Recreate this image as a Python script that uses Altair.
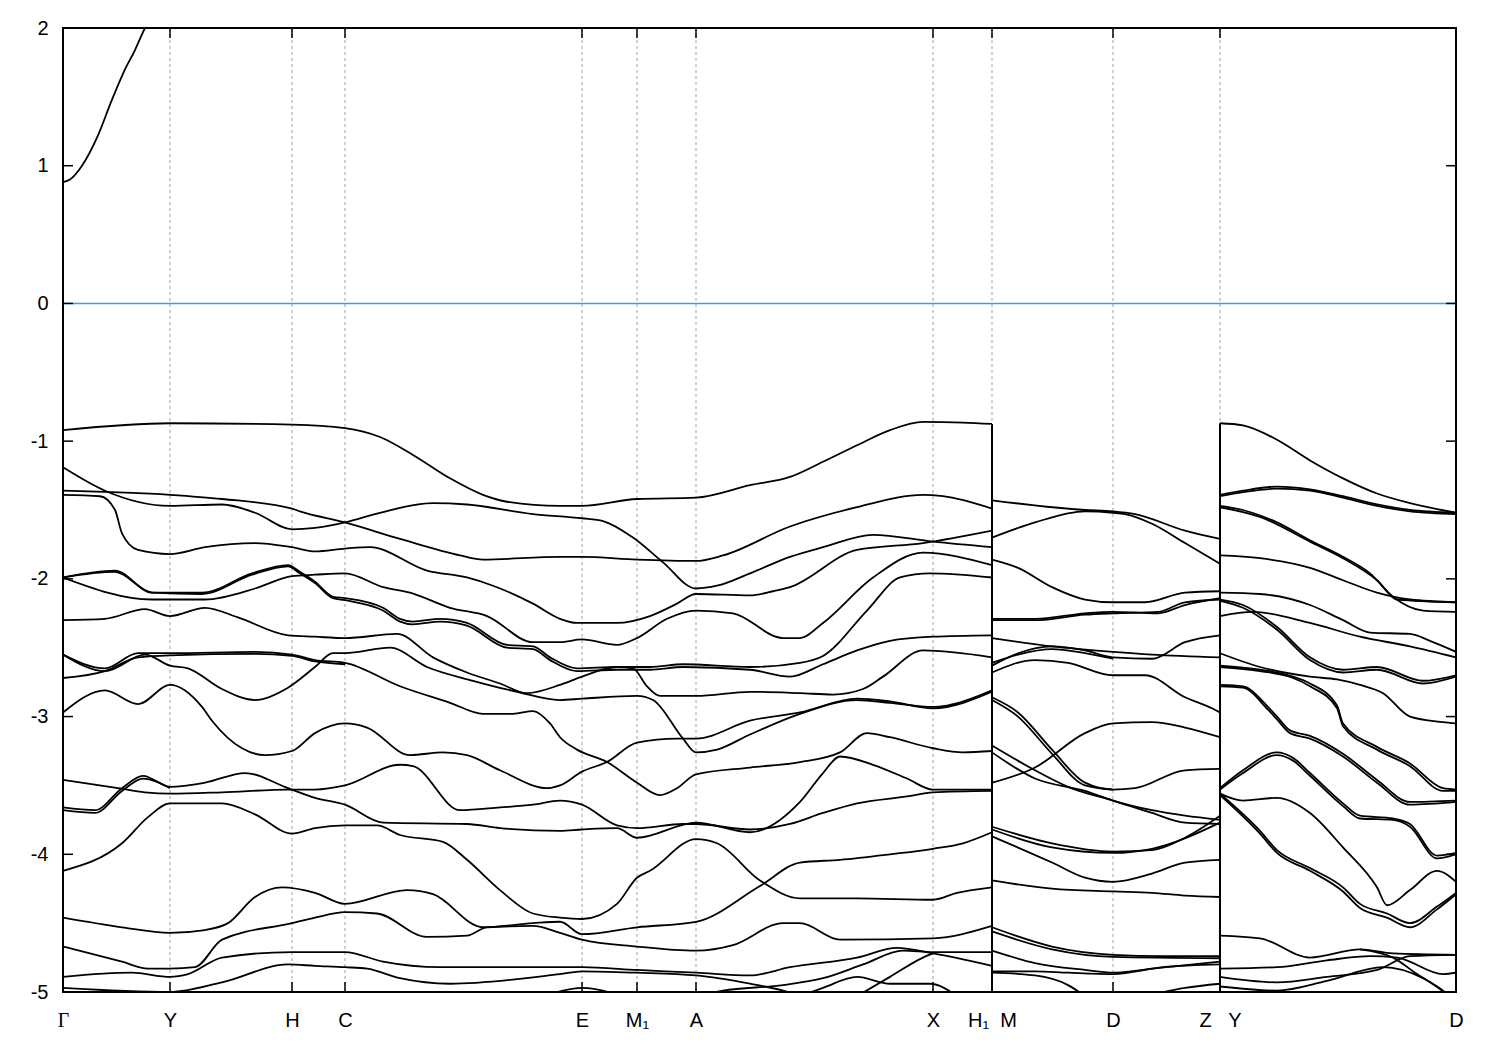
import altair as alt
import pandas as pd

# ---- axis data ----
tick_k = [0, 107, 229, 282, 519, 574, 633, 870, 929, 1050, 1157, 1393]
tick_names = ["Γ", "Y", "H", "C", "E", "M₁", "A", "X", "H₁\u00a0\u00a0M", "D", "Z\u00a0\u00a0\u00a0Y", "D"]
energy_ticks = [-5, -4, -3, -2, -1, 0, 1, 2]
fermi_level = [0.0]
jump_k = [929, 1157]
jump_top = [-0.875, -0.87]
jump_bottom = [-5.0, -5.0]

# ---- conduction band (Gamma) ----
cond_band = [(0, 0.88), (7, 0.90), (19, 1.00), (35, 1.22), (49, 1.48), (62, 1.70), (72, 1.84), (80, 1.97), (88, 2.08)]

# ---- segment 1: Gamma ... H1 ----
seg1 = [
    [(0,-0.92),(107,-0.87),(229,-0.88),(282,-0.905),(317,-0.97),(350,-1.10),(387,-1.27),(420,-1.39),(444,-1.44),(497,-1.47),(519,-1.47),(574,-1.42),(633,-1.41),(687,-1.32),(727,-1.26),(760,-1.15),(794,-1.03),(827,-0.92),(860,-0.86),(900,-0.865),(929,-0.875)],
    [(0,-1.19),(42,-1.36),(107,-1.47),(159,-1.46),(192,-1.52),(229,-1.64),(252,-1.63),(282,-1.59),(317,-1.52),(370,-1.45),(404,-1.46),(470,-1.53),(519,-1.56),(540,-1.58),(570,-1.70),(600,-1.88),(633,-2.07),(654,-2.05),(687,-1.96),(727,-1.84),(760,-1.77),(810,-1.68),(870,-1.73),(929,-1.77)],
    [(0,-1.36),(107,-1.39),(159,-1.42),(229,-1.49),(237,-1.51),(282,-1.59),(337,-1.71),(397,-1.83),(420,-1.86),(497,-1.84),(519,-1.84),(574,-1.86),(633,-1.87),(660,-1.83),(727,-1.62),(794,-1.48),(860,-1.39),(880,-1.40),(929,-1.49)],
    [(0,-1.39),(37,-1.40),(52,-1.50),(59,-1.67),(75,-1.79),(107,-1.82),(142,-1.77),(192,-1.74),(229,-1.77),(252,-1.80),(282,-1.78),(307,-1.77),(364,-1.94),(404,-1.99),(430,-2.05),(470,-2.18),(497,-2.29),(514,-2.32),(554,-2.32),(587,-2.27),(614,-2.18),(633,-2.11),(687,-2.12),(710,-2.09),(727,-2.06),(794,-1.79),(860,-1.74),(929,-1.65)],
    [(0,-1.99),(52,-1.94),(89,-2.10),(139,-2.10),(189,-1.96),(225,-1.90),(237,-1.95),(252,-2.02),(270,-2.13),(282,-2.14),(320,-2.21),(337,-2.29),(350,-2.31),(377,-2.29),(404,-2.32),(444,-2.48),(470,-2.49),(487,-2.57),(514,-2.65),(554,-2.64),(587,-2.64),(620,-2.62),(687,-2.64),(737,-2.61),(760,-2.56),(804,-2.23),(837,-1.99),(867,-1.96),(929,-1.99)],
    [(0,-1.99),(52,-1.95),(89,-2.10),(139,-2.11),(189,-1.97),(225,-1.91),(237,-1.96),(252,-2.03),(270,-2.14),(282,-2.155),(320,-2.23),(337,-2.31),(350,-2.33),(377,-2.31),(404,-2.34),(444,-2.50),(470,-2.51),(487,-2.59),(514,-2.67),(554,-2.66),(587,-2.66),(620,-2.64),(687,-2.66),(727,-2.71),(760,-2.62),(794,-2.52),(827,-2.45),(870,-2.42),(929,-2.41)],
    [(0,-1.99),(89,-2.15),(142,-2.15),(192,-2.07),(229,-1.98),(252,-1.97),(282,-1.96),(320,-2.06),(347,-2.10),(387,-2.21),(424,-2.27),(470,-2.46),(497,-2.46),(519,-2.44),(554,-2.48),(574,-2.43),(604,-2.29),(633,-2.23),(670,-2.25),(720,-2.43),(737,-2.43),(760,-2.32),(810,-1.99),(860,-1.81),(929,-1.90)],
    [(0,-2.30),(42,-2.29),(82,-2.22),(107,-2.27),(142,-2.21),(175,-2.28),(225,-2.41),(252,-2.42),(282,-2.43),(334,-2.40),(370,-2.57),(404,-2.68),(437,-2.76),(464,-2.83),(497,-2.77),(519,-2.71),(554,-2.64),(570,-2.65),(584,-2.78),(597,-2.85),(633,-2.85),(687,-2.82),(737,-2.83),(770,-2.84),(800,-2.80),(820,-2.71),(860,-2.52),(929,-2.57)],
    [(0,-2.55),(42,-2.65),(75,-2.54),(107,-2.54),(192,-2.53),(229,-2.55),(252,-2.59),(282,-2.61),(337,-2.78),(387,-2.90),(420,-2.98),(450,-2.98),(470,-2.96),(487,-3.05),(497,-3.15),(514,-3.24),(544,-3.33),(574,-3.48),(597,-3.57),(614,-3.52),(633,-3.42),(687,-3.37),(737,-3.33),(777,-3.26),(804,-3.12),(827,-3.15),(870,-3.23),(900,-3.26),(929,-3.25)],
    [(0,-2.55),(42,-2.67),(82,-2.55),(107,-2.63),(125,-2.65),(159,-2.80),(192,-2.88),(225,-2.79),(252,-2.64),(270,-2.54),(282,-2.54),(327,-2.50),(364,-2.64),(410,-2.74),(454,-2.82),(497,-2.88),(519,-2.87),(574,-2.85),(590,-2.88),(620,-3.16),(633,-3.26),(654,-3.24),(687,-3.13),(737,-2.98),(794,-2.88),(827,-2.90),(870,-2.93),(884,-2.92),(929,-2.81)],
    [(0,-2.72),(42,-2.67),(75,-2.57),(107,-2.555),(192,-2.545),(229,-2.56),(252,-2.60),(282,-2.62)],
    [(0,-2.97),(42,-2.81),(75,-2.91),(107,-2.77),(139,-2.93),(149,-3.03),(179,-3.23),(202,-3.28),(229,-3.25),(252,-3.12),(282,-3.05),(304,-3.08),(347,-3.28),(380,-3.26),(404,-3.28),(437,-3.39),(484,-3.52),(497,-3.50),(519,-3.40),(544,-3.33),(574,-3.19),(614,-3.16),(633,-3.16),(687,-3.03),(737,-2.97),(794,-2.87),(827,-2.89),(870,-2.94),(929,-2.82)],
    [(0,-3.46),(55,-3.52),(82,-3.55),(107,-3.56),(159,-3.55),(225,-3.53),(252,-3.53),(282,-3.50),(337,-3.35),(350,-3.36),(397,-3.68),(437,-3.66),(470,-3.64),(497,-3.61),(519,-3.64),(554,-3.79),(574,-3.81),(620,-3.78),(633,-3.78),(687,-3.82),(727,-3.78),(760,-3.70),(794,-3.63),(844,-3.58),(870,-3.55),(929,-3.54)],
    [(0,-3.66),(32,-3.68),(59,-3.52),(80,-3.43),(107,-3.51),(142,-3.48),(182,-3.41),(225,-3.52),(252,-3.59),(282,-3.64),(320,-3.77),(404,-3.78),(437,-3.81),(497,-3.83),(519,-3.82),(554,-3.81),(574,-3.88),(633,-3.77),(687,-3.84),(737,-3.62),(760,-3.41),(777,-3.29),(810,-3.35),(844,-3.45),(870,-3.53),(929,-3.53)],
    [(0,-3.68),(32,-3.70),(59,-3.54),(80,-3.45),(107,-3.52)],
    [(0,-4.12),(59,-3.92),(85,-3.73),(107,-3.63),(159,-3.63),(192,-3.71),(229,-3.85),(252,-3.81),(282,-3.79),(314,-3.79),(337,-3.86),(380,-3.91),(404,-4.04),(437,-4.26),(470,-4.43),(497,-4.46),(519,-4.47),(554,-4.36),(574,-4.17),(587,-4.12),(633,-3.89),(654,-3.92),(697,-4.19),(737,-4.32),(794,-4.32),(870,-4.33),(894,-4.28),(929,-4.24)],
    [(0,-4.46),(59,-4.53),(107,-4.57),(142,-4.55),(165,-4.50),(192,-4.31),(219,-4.24),(252,-4.28),(282,-4.36),(344,-4.26),(370,-4.29),(420,-4.53),(470,-4.50),(497,-4.49),(519,-4.58),(574,-4.53),(633,-4.49),(697,-4.23),(737,-4.06),(777,-4.04),(827,-4.00),(870,-3.96),(900,-3.92),(929,-3.84)],
    [(0,-4.67),(59,-4.78),(85,-4.83),(107,-4.83),(132,-4.82),(159,-4.62),(229,-4.50),(252,-4.46),(282,-4.42),(314,-4.43),(364,-4.60),(404,-4.59),(424,-4.53),(470,-4.52),(497,-4.57),(519,-4.62),(574,-4.67),(633,-4.70),(670,-4.66),(720,-4.50),(737,-4.50),(777,-4.62),(870,-4.61),(929,-4.52)],
    [(0,-4.89),(69,-4.86),(107,-4.89),(125,-4.87),(159,-4.75),(229,-4.71),(252,-4.71),(282,-4.71),(320,-4.78),(377,-4.82),(497,-4.82),(519,-4.82),(574,-4.84),(633,-4.86),(687,-4.88),(727,-4.82),(794,-4.75),(834,-4.68),(870,-4.72),(929,-4.81)],
    [(0,-4.97),(107,-5.0),(159,-4.93),(225,-4.80),(252,-4.81),(282,-4.82),(304,-4.83),(337,-4.90),(387,-4.94),(497,-4.87),(519,-4.85),(574,-4.86),(633,-4.88),(687,-4.94),(720,-4.99),(750,-5.06)],
    [(600,-5.10),(660,-4.99),(720,-4.95),(760,-4.90),(800,-4.80),(840,-4.70),(870,-4.71),(929,-4.71)],
    [(737,-5.03),(760,-4.97),(794,-4.89),(827,-4.94),(867,-4.94),(894,-5.03)],
    [(794,-5.03),(827,-4.89),(860,-4.75),(870,-4.72)],
    [(480,-5.03),(520,-4.97),(555,-5.02)],
]

# ---- segment 2: M ... Z ----
seg2 = [
    [(929,-1.43),(1022,-1.50),(1050,-1.51),(1072,-1.53),(1122,-1.65),(1157,-1.71)],
    [(929,-1.70),(972,-1.59),(1022,-1.51),(1050,-1.52),(1062,-1.53),(1089,-1.60),(1122,-1.74),(1157,-1.89)],
    [(929,-1.86),(955,-1.92),(989,-2.06),(1022,-2.15),(1050,-2.17),(1082,-2.17),(1122,-2.10),(1157,-2.09)],
    [(929,-2.29),(972,-2.29),(1022,-2.25),(1050,-2.24),(1095,-2.25),(1122,-2.19),(1157,-2.14)],
    [(929,-2.30),(972,-2.30),(1022,-2.26),(1050,-2.25),(1095,-2.24),(1122,-2.17),(1157,-2.15)],
    [(929,-2.43),(989,-2.49),(1050,-2.53),(1089,-2.55),(1157,-2.57)],
    [(929,-2.63),(955,-2.54),(989,-2.49),(1022,-2.52),(1050,-2.57),(1089,-2.58),(1122,-2.46),(1157,-2.41)],
    [(929,-2.61),(955,-2.55),(989,-2.51),(1022,-2.54),(1050,-2.58)],
    [(929,-2.68),(972,-2.59),(1005,-2.61),(1050,-2.70),(1082,-2.70),(1122,-2.86),(1149,-2.94),(1157,-2.97)],
    [(929,-2.86),(955,-2.97),(989,-3.24),(1022,-3.48),(1050,-3.53),(1072,-3.52),(1122,-3.39),(1157,-3.38)],
    [(929,-2.88),(955,-3.00),(989,-3.27),(1022,-3.50),(1050,-3.53)],
    [(929,-3.48),(972,-3.37),(1022,-3.12),(1050,-3.05),(1089,-3.04),(1122,-3.08),(1157,-3.15)],
    [(929,-3.21),(972,-3.39),(1005,-3.51),(1050,-3.61),(1089,-3.70),(1122,-3.77),(1157,-3.78)],
    [(929,-3.26),(972,-3.45),(1022,-3.54),(1050,-3.61),(1089,-3.68),(1122,-3.72),(1157,-3.75)],
    [(929,-3.80),(989,-3.92),(1050,-3.98),(1089,-3.97),(1122,-3.88),(1157,-3.72)],
    [(929,-3.82),(989,-3.95),(1050,-3.99),(1089,-3.96),(1157,-3.77)],
    [(929,-3.87),(989,-4.06),(1022,-4.17),(1050,-4.20),(1089,-4.14),(1122,-4.06),(1157,-4.04)],
    [(929,-4.19),(989,-4.25),(1050,-4.27),(1089,-4.28),(1122,-4.30),(1157,-4.31)],
    [(929,-4.53),(989,-4.67),(1050,-4.73),(1100,-4.74),(1157,-4.74)],
    [(929,-4.56),(989,-4.69),(1050,-4.745),(1157,-4.755)],
    [(929,-4.70),(972,-4.79),(1022,-4.84),(1050,-4.86),(1089,-4.83),(1157,-4.78)],
    [(929,-4.85),(972,-4.85),(1005,-4.86),(1050,-4.87),(1100,-4.82),(1157,-4.80)],
    [(929,-4.86),(972,-4.88),(1005,-4.95),(1022,-5.03)],
    [(1089,-5.02),(1122,-4.97),(1157,-4.94)],
]

# ---- segment 3: Y ... D ----
seg3 = [
    [(1157,-0.87),(1180,-0.885),(1214,-0.99),(1247,-1.14),(1280,-1.27),(1314,-1.38),(1347,-1.45),(1393,-1.52)],
    [(1157,-1.39),(1180,-1.36),(1214,-1.33),(1247,-1.35),(1280,-1.40),(1314,-1.46),(1347,-1.50),(1393,-1.52)],
    [(1157,-1.40),(1180,-1.37),(1214,-1.345),(1247,-1.36),(1280,-1.41),(1314,-1.47),(1347,-1.51),(1393,-1.53)],
    [(1157,-1.47),(1180,-1.50),(1214,-1.59),(1247,-1.72),(1280,-1.84),(1307,-1.96),(1330,-2.13),(1360,-2.23),(1393,-2.24)],
    [(1157,-1.48),(1197,-1.55),(1247,-1.73),(1280,-1.85),(1314,-2.01),(1334,-2.15),(1393,-2.17)],
    [(1157,-1.83),(1197,-1.85),(1247,-1.92),(1280,-2.01),(1314,-2.10),(1347,-2.15),(1393,-2.17)],
    [(1157,-2.10),(1197,-2.11),(1247,-2.19),(1280,-2.30),(1307,-2.39),(1347,-2.40),(1367,-2.45),(1393,-2.53)],
    [(1157,-2.15),(1180,-2.19),(1214,-2.35),(1247,-2.57),(1280,-2.66),(1314,-2.64),(1360,-2.74),(1393,-2.70)],
    [(1157,-2.16),(1180,-2.21),(1214,-2.37),(1247,-2.59),(1280,-2.68),(1314,-2.66),(1360,-2.76),(1393,-2.71)],
    [(1157,-2.27),(1190,-2.24),(1247,-2.32),(1297,-2.42),(1347,-2.49),(1393,-2.57)],
    [(1157,-2.54),(1197,-2.64),(1247,-2.71),(1274,-2.73),(1297,-2.77),(1320,-2.83),(1347,-3.00),(1380,-3.04),(1393,-3.05)],
    [(1157,-2.63),(1197,-2.66),(1230,-2.71),(1247,-2.76),(1274,-2.92),(1280,-3.05),(1314,-3.22),(1347,-3.34),(1380,-3.52),(1393,-3.53)],
    [(1157,-2.64),(1197,-2.67),(1230,-2.72),(1247,-2.78),(1274,-2.94),(1280,-3.07),(1314,-3.24),(1347,-3.36),(1380,-3.54),(1393,-3.54)],
    [(1157,-2.77),(1180,-2.78),(1205,-2.93),(1214,-3.00),(1227,-3.10),(1247,-3.14),(1280,-3.27),(1314,-3.46),(1347,-3.62),(1393,-3.61)],
    [(1157,-2.78),(1180,-2.79),(1205,-2.95),(1214,-3.02),(1227,-3.12),(1247,-3.16),(1280,-3.29),(1314,-3.48),(1347,-3.64),(1393,-3.62)],
    [(1157,-3.52),(1180,-3.39),(1214,-3.26),(1230,-3.30),(1247,-3.41),(1280,-3.63),(1297,-3.72),(1330,-3.74),(1347,-3.78),(1374,-4.01),(1393,-3.99)],
    [(1157,-3.53),(1180,-3.41),(1214,-3.28),(1230,-3.32),(1247,-3.43),(1280,-3.65),(1297,-3.74),(1330,-3.75),(1347,-3.80),(1374,-4.03),(1393,-4.00)],
    [(1157,-3.56),(1180,-3.61),(1214,-3.59),(1247,-3.70),(1280,-3.95),(1314,-4.24),(1324,-4.37),(1347,-4.26),(1374,-4.12),(1393,-4.20)],
    [(1157,-3.56),(1197,-3.83),(1214,-3.97),(1247,-4.10),(1280,-4.24),(1297,-4.36),(1324,-4.43),(1347,-4.50),(1374,-4.38),(1393,-4.28)],
    [(1157,-3.57),(1197,-3.85),(1214,-3.99),(1247,-4.12),(1280,-4.27),(1297,-4.39),(1324,-4.46),(1347,-4.53),(1374,-4.40),(1393,-4.29)],
    [(1157,-4.59),(1197,-4.61),(1247,-4.75),(1297,-4.69),(1330,-4.72),(1393,-4.73)],
    [(1157,-4.83),(1214,-4.82),(1264,-4.77),(1307,-4.74),(1334,-4.75),(1380,-4.87),(1393,-4.86)],
    [(1157,-4.89),(1214,-4.93),(1264,-4.89),(1314,-4.84),(1347,-4.74),(1393,-4.73)],
    [(1297,-4.69),(1330,-4.75),(1354,-4.87),(1380,-4.99),(1390,-5.05)],
    [(1157,-4.96),(1214,-4.99),(1264,-4.92),(1320,-4.82),(1360,-4.90),(1390,-5.05)],
]

# ---- build tables ----
rows = []
for name, bands in (("cb", [cond_band]), ("s1", seg1), ("s2", seg2), ("s3", seg3)):
    for i, band in enumerate(bands):
        for j, (k, e) in enumerate(band):
            rows.append({"band": f"{name}_{i}", "k": k, "E": e, "o": j})
bands_df = pd.DataFrame(rows)

grid_df = pd.DataFrame({"k": tick_k[1:-1]})
xt_df = pd.DataFrame({"k": tick_k})
yt_df = pd.DataFrame({"E": energy_ticks})
fermi_df = pd.DataFrame({"E": fermi_level})
jump_df = pd.DataFrame({"k": jump_k, "top": jump_top, "bottom": jump_bottom})

label_expr = ""
for kv, nm in zip(tick_k, tick_names):
    label_expr += f"datum.value == {kv} ? '{nm}' : "
label_expr += "''"

W, H = 1393, 964
xscale = alt.Scale(domain=[0, 1393], nice=False, zero=False)
yscale = alt.Scale(domain=[-5, 2], nice=False, zero=False)

x_axis = alt.Axis(values=tick_k, labelExpr=label_expr, title=None, grid=False, ticks=False,
                  tickSize=0, domain=False, labelPadding=18, labelFlush=False, labelOverlap=False,
                  labelFont=alt.condition("datum.value == 0", alt.value("Liberation Serif"), alt.value("Liberation Sans")),
                  labelFontSize=20, labelColor="black", labelBound=False)
y_axis = alt.Axis(values=energy_ticks, labelExpr="'' + datum.value", title=None, grid=False, ticks=False,
                  tickSize=0, domain=False, labelPadding=15, labelFlush=False, labelOverlap=False,
                  labelFont="Liberation Sans", labelFontSize=20, labelColor="black")

X = alt.X("k:Q", scale=xscale, axis=x_axis)
Y = alt.Y("E:Q", scale=yscale, axis=y_axis)

grid = alt.Chart(grid_df).mark_rule(color="#a0a0a0", strokeDash=[3, 3], strokeWidth=1).encode(x=X)

fermi = alt.Chart(fermi_df).mark_rule(color="#3a9ee0", strokeWidth=1.5).encode(y=Y)

lines = alt.Chart(bands_df).mark_line(interpolate="monotone", color="black", strokeWidth=1.8, clip=True).encode(
    x=X, y=Y, detail="band:N", order="o:Q",
)

jumps = alt.Chart(jump_df).mark_rule(color="black", strokeWidth=2).encode(
    x=X,
    y=alt.Y("top:Q", scale=yscale, axis=y_axis),
    y2="bottom:Q",
)

tick_style = dict(color="black", strokeWidth=1.5)
yt_left = alt.Chart(yt_df).mark_rule(**tick_style).encode(y=Y, x=alt.value(0), x2=alt.value(10))
yt_right = alt.Chart(yt_df).mark_rule(**tick_style).encode(y=Y, x=alt.value(W - 10), x2=alt.value(W))
xt_bottom = alt.Chart(xt_df).mark_rule(**tick_style).encode(x=X, y=alt.value(H - 10), y2=alt.value(H))
xt_top = alt.Chart(xt_df).mark_rule(**tick_style).encode(x=X, y=alt.value(0), y2=alt.value(10))

chart = alt.layer(grid, fermi, lines, jumps, yt_left, yt_right, xt_bottom, xt_top).properties(
    width=W, height=H,
    autosize=alt.AutoSizeParams(type="none"),
    padding={"left": 55, "top": 20, "right": 30, "bottom": 46},
    background="white",
).configure_view(stroke="black", strokeWidth=2)

chart.save("out.html", embed_options={"renderer": "svg", "actions": False})
